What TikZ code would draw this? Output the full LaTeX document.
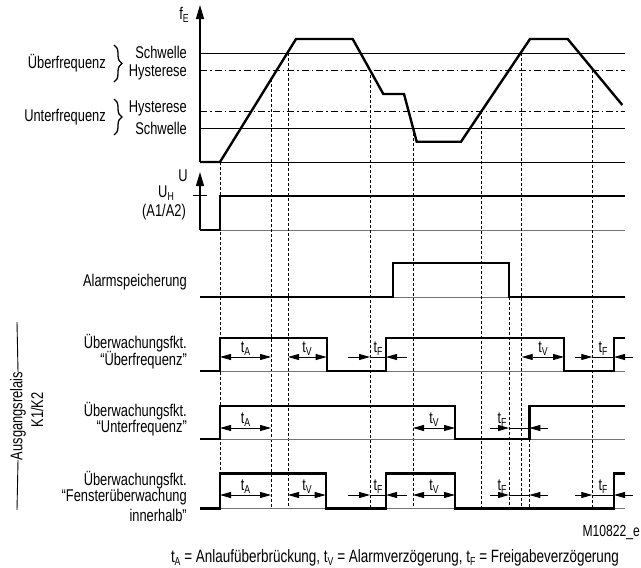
\documentclass[tikz,border=0pt]{standalone}
\usepackage{fontspec}
\setmainfont{Liberation Sans}[FakeStretch=0.757]
\usetikzlibrary{arrows.meta,decorations.pathreplacing}
\newcommand\subx[1]{\raisebox{-0.4ex}{\fontsize{11.5}{11.5}\selectfont #1}}
\begin{document}
\begin{tikzpicture}[x=1pt,y=-1pt,
  sig/.style={line width=2.4pt, line join=miter},
  base/.style={line width=0.9pt, black!55},
  thr/.style={line width=0.9pt},
  hyst/.style={line width=0.9pt, dash pattern=on 7pt off 3pt on 1.5pt off 3pt},
  guide/.style={line width=0.8pt, dash pattern=on 3pt off 2pt},
  lbl/.style={font=\fontsize{17}{19}\selectfont, inner sep=0pt},
  lblr/.style={lbl, anchor=east},
  vlbl/.style={lbl, rotate=90},
  tarr/.style={line width=0.8pt, {Triangle[length=11pt,width=6pt]}-{Triangle[length=11pt,width=6pt]}},
  tin/.style={line width=0.8pt, -{Triangle[length=11pt,width=6pt]}},
  tln/.style={line width=0.8pt},
  tl/.style={font=\fontsize{16.5}{16.5}\selectfont, inner sep=0pt, anchor=south},
  axis/.style={line width=1.1pt, -{Triangle[length=14pt,width=8pt]}},
  brc/.style={line width=1.3pt, decorate, decoration={brace, amplitude=8pt}},
]
\useasboundingbox (0,0) rectangle (641,568);

% ---------- frequency diagram ----------
\draw[thr] (200,53) -- (625,53);
\draw[hyst] (200,70) -- (625,70);
\draw[hyst] (200,111) -- (625,111);
\draw[thr] (200,128) -- (625,128);
\draw[thr] (200,162) -- (625,162);
\draw[axis] (200,162) -- (200,5);
\node[lbl] (fE) at (184,15) {f\subx{E}};
\draw[sig] (200,162) -- (220,162) -- (296,39) -- (352.7,39) -- (383.3,94) -- (404,94)
  -- (416.7,141.7) -- (461,141.7) -- (530,39) -- (567.7,39) -- (622.3,105);

\node[lblr] (s1) at (187,52) {Schwelle};
\node[lblr] (h1) at (187,72) {Hysterese};
\node[lblr] (h2) at (187,108) {Hysterese};
\node[lblr] (s2) at (187,128) {Schwelle};
\node[lblr] (uf) at (106,63) {Überfrequenz};
\node[lblr] (unf) at (106,117) {Unterfrequenz};
\draw[brc] (114,45) -- (114,82);
\draw[brc] (114,99) -- (114,135);

% ---------- supply voltage ----------
\draw[base] (200,230) -- (625,230);
\draw[axis] (200,230) -- (200,172);
\draw[line width=0.9pt] (193,195.7) -- (207,195.7);
\draw[sig] (200,230) -- (220,230) -- (220,195.7) -- (625,195.7);
\node[lbl] (U) at (183,176) {U};
\node[lbl] (UH) at (166,193) {U\subx{H}};
\node[lbl] (A12) at (164,212) {(A1/A2)};

% ---------- alarm memory ----------
\draw[base] (200,297) -- (625,297);
\draw[sig] (200,297) -- (393,297) -- (393,263) -- (509,263) -- (509,297) -- (625,297);
\node[lblr] (am) at (187,282) {Alarmspeicherung};

% ---------- guides ----------
\foreach \x/\y in {220/162, 271/79, 288/53, 370/70, 413/128, 481/111, 509/297, 521.7/53, 529.3/439, 592.3/70}
  \draw[guide] (\x,\y) -- (\x,508);

% ---------- relay: Ueberfrequenz ----------
\draw[base] (200,371) -- (625,371);
\draw[sig] (200,371) -- (220,371) -- (220,337.7) -- (326.7,337.7) -- (326.7,371) -- (386,371)
  -- (386,337.7) -- (564,337.7) -- (564,371) -- (614,371) -- (614,337.7) -- (625,337.7);
\node[lblr] (o1) at (187,343) {Überwachungsfkt.};
\node[lblr] (o2) at (187,360) {“Überfrequenz”};
\draw[tarr] (220,357) -- (271,357);
\node[tl] (oA) at (245.5,356) {t\subx{A}};
\draw[tarr] (288,357) -- (326.7,357);
\node[tl] (oV1) at (307,356) {t\subx{V}};
\draw[tin] (348,357) -- (370,357);
\draw[tin] (407,357) -- (386,357);
\draw[tln] (370,357) -- (386,357);
\node[tl] (oF1) at (378,356) {t\subx{F}};
\draw[tarr] (521.7,357) -- (564,357);
\node[tl] (oV2) at (543,356) {t\subx{V}};
\draw[tin] (575,357) -- (592.3,357);
\draw[tin] (633,357) -- (614,357);
\draw[tln] (592.3,357) -- (614,357);
\node[tl] (oF2) at (603,356) {t\subx{F}};

% ---------- relay: Unterfrequenz ----------
\draw[base] (200,439) -- (625,439);
\draw[sig] (200,439) -- (220,439) -- (220,406) -- (455,406) -- (455,439) -- (529.3,439)
  -- (529.3,406) -- (625,406);
\node[lblr] (u1) at (187,411) {Überwachungsfkt.};
\node[lblr] (u2) at (187,428) {“Unterfrequenz”};
\draw[tarr] (220,428) -- (271,428);
\node[tl] (uA) at (245.5,427) {t\subx{A}};
\draw[tarr] (413,428) -- (455,428);
\node[tl] (uV) at (434,427) {t\subx{V}};
\draw[tin] (490,428) -- (509,428);
\draw[tin] (548,428) -- (529.3,428);
\draw[tln] (509,428) -- (529.3,428);
\node[tl] (uF) at (502,427) {t\subx{F}};

% ---------- relay: Fensterueberwachung ----------
\draw[base] (200,508.3) -- (625,508.3);
\draw[sig] (200,508.3) -- (220,508.3) -- (220,473.3) -- (325.7,473.3) -- (325.7,508.3) -- (386,508.3)
  -- (386,473.3) -- (455,473.3) -- (455,508.3) -- (614,508.3) -- (614,473.3) -- (625,473.3);
\node[lblr] (w1) at (187,480) {Überwachungsfkt.};
\node[lblr] (w2) at (187,497) {“Fensterüberwachung};
\node[lblr] (w3) at (187,515) {innerhalb”};
\draw[tarr] (220,495) -- (271,495);
\node[tl] (wA) at (245.5,494) {t\subx{A}};
\draw[tarr] (288,495) -- (325.7,495);
\node[tl] (wV1) at (307,494) {t\subx{V}};
\draw[tin] (348,495) -- (370,495);
\draw[tin] (407,495) -- (386,495);
\draw[tln] (370,495) -- (386,495);
\node[tl] (wF1) at (378,494) {t\subx{F}};
\draw[tarr] (413,495) -- (455,495);
\node[tl] (wV2) at (434,494) {t\subx{V}};
\draw[tin] (490,495) -- (509,495);
\draw[tin] (548,495) -- (529.3,495);
\draw[tln] (509,495) -- (529.3,495);
\node[tl] (wF2) at (502,494) {t\subx{F}};
\draw[tin] (575,495) -- (592.3,495);
\draw[tin] (633,495) -- (614,495);
\draw[tln] (592.3,495) -- (614,495);
\node[tl] (wF3) at (603,494) {t\subx{F}};

% ---------- side label ----------
\node[vlbl] (ar) at (18,416) {Ausgangsrelais};
\node[vlbl] (kk) at (37,410) {K1/K2};
\draw[line width=0.9pt] (17,322) -- (ar.east);
\draw[line width=0.9pt] (ar.west) -- (17,510);

% ---------- footer ----------
\node[lbl, font=\fontsize{16}{16}\selectfont, anchor=east] (id) at (640,532) {M10822\_e};
\node[lbl, font=\fontsize{17.8}{18}\selectfont, anchor=base] (legend) at (395,562) {t\subx{A} = Anlaufüberbrückung, t\subx{V} = Alarmverzögerung, t\subx{F} = Freigabeverzögerung};
\end{tikzpicture}
\end{document}
